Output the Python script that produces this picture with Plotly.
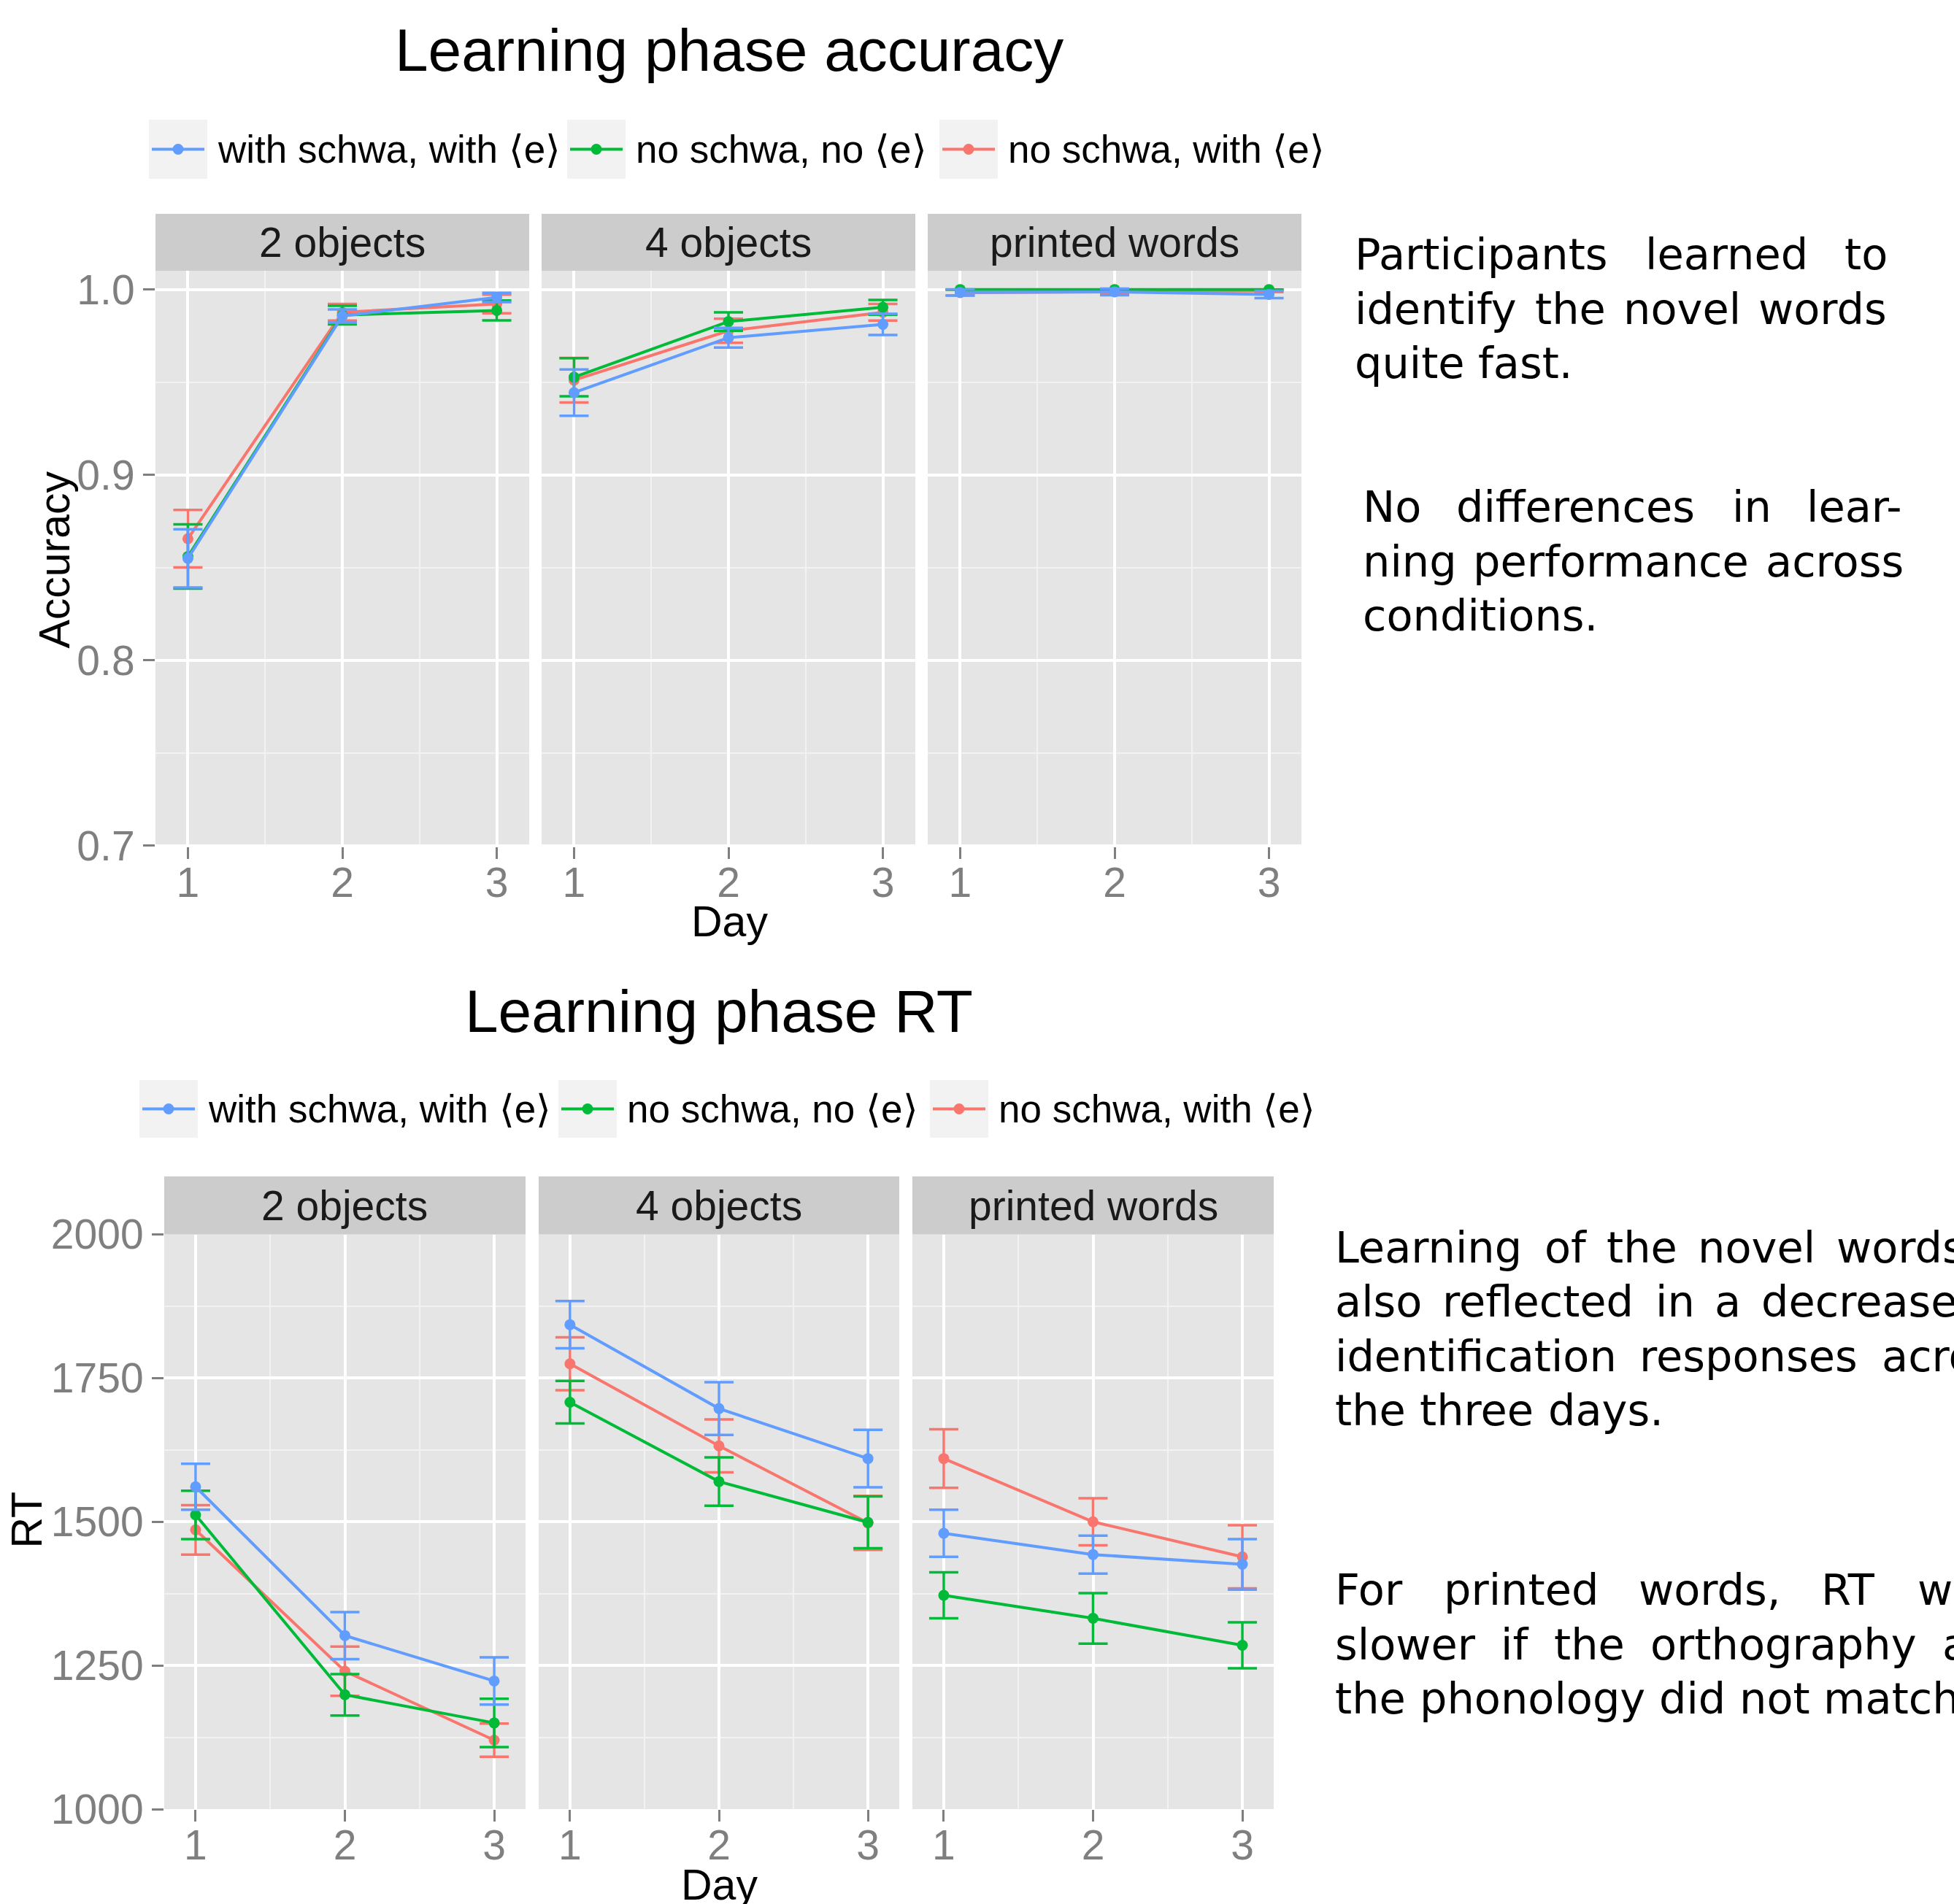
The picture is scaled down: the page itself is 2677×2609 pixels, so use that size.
import plotly.graph_objects as go

W, H = 2677, 2609

# ---------------- data ----------------
days = [1, 2, 3]
panels = ["2 objects", "4 objects", "printed words"]
cond_blue = "with schwa, with \u27e8e\u27e9"
cond_green = "no schwa, no \u27e8e\u27e9"
cond_red = "no schwa, with \u27e8e\u27e9"
legend_order = [cond_blue, cond_green, cond_red]
draw_order = [cond_red, cond_green, cond_blue]
colors = {cond_blue: "#619CFF", cond_green: "#00BA38", cond_red: "#F8766D"}

# Accuracy: per panel (2 objects, 4 objects, printed words), per day 1..3
acc_blue = [[0.855, 0.9857, 0.9957], [0.9444, 0.974, 0.9812], [0.9984, 0.9987, 0.9973]]
acc_blue_se = [[0.0157, 0.0035, 0.0025], [0.0125, 0.0053, 0.0057], [0.0017, 0.0018, 0.002]]
acc_green = [[0.856, 0.9862, 0.9887], [0.9527, 0.9827, 0.9904], [1.0, 1.0, 1.0]]
acc_green_se = [[0.0173, 0.005, 0.0054], [0.0103, 0.005, 0.004], [0.0, 0.0, 0.0]]
acc_red = [[0.8656, 0.9877, 0.9922], [0.9511, 0.9777, 0.9877], [0.9983, 0.999, 0.9993]]
acc_red_se = [[0.0155, 0.0045, 0.005], [0.012, 0.0065, 0.0045], [0.0015, 0.001, 0.0007]]

# RT (ms)
rt_blue = [[1561, 1302, 1223], [1843, 1697, 1610], [1480, 1443, 1426]]
rt_blue_se = [[40, 41, 41], [41, 46, 50], [41, 33, 44]]
rt_green = [[1512, 1199, 1150], [1708, 1570, 1499], [1372, 1332, 1285]]
rt_green_se = [[42, 36, 42], [37, 42, 45], [40, 44, 40]]
rt_red = [[1486, 1240, 1120], [1775, 1632, 1498], [1610, 1500, 1439]]
rt_red_se = [[43, 43, 29], [46, 46, 47], [51, 41, 55]]

acc_ticks = [0.7, 0.8, 0.9, 1.0]
rt_ticks = [1000, 1250, 1500, 1750, 2000]

acc_data = {cond_blue: (acc_blue, acc_blue_se), cond_green: (acc_green, acc_green_se),
            cond_red: (acc_red, acc_red_se)}
rt_data = {cond_blue: (rt_blue, rt_blue_se), cond_green: (rt_green, rt_green_se),
           cond_red: (rt_red, rt_red_se)}

title_acc = "Learning phase accuracy"
title_rt = "Learning phase RT"
xlabel = "Day"
ylabel_acc = "Accuracy"
ylabel_rt = "RT"

para_top1 = [("Participants learned to", True), ("identify the novel words", True),
             ("quite fast.", False)]
para_top2 = [("No differences in lear-", True), ("ning performance across", True),
             ("conditions.", False)]
para_bot1 = [("Learning of the novel words is", True), ("also reflected in a decrease of", True),
             ("identification responses across", True), ("the three days.", False)]
para_bot2 = [("For printed words, RT were", True), ("slower if the orthography and", True),
             ("the phonology did not match.", False)]

# ---------------- layout geometry (pixels) ----------------
FONT = "Liberation Sans, Arial, Helvetica, sans-serif"
TFONT = "DejaVu Sans, sans-serif"
GREY50 = "#7F7F7F"

top_x = [(213, 725), (742, 1254), (1271, 1783)]
bot_x = [(225, 720), (738, 1232), (1250, 1745)]
top_panel_y = (371, 1160)
bot_panel_y = (1691.5, 2479)
top_strip_y = (293, 371)
bot_strip_y = (1612, 1691.5)


def px(x):
    return x / W


def py(y):
    return 1 - y / H


fig = go.Figure()
layout = dict(
    width=W, height=H, margin=dict(l=0, r=0, t=0, b=0, autoexpand=False),
    paper_bgcolor="white", plot_bgcolor="#E5E5E5", showlegend=False,
    font=dict(family=FONT, color="black"),
)
shapes = []
annotations = []


def axis_common():
    return dict(showline=False, zeroline=False, gridcolor="white", gridwidth=4,
                ticks="outside", ticklen=16, tickwidth=3, tickcolor=GREY50,
                tickfont=dict(family=FONT, size=57, color=GREY50), fixedrange=True,
                automargin=False)


for row in range(2):
    xs = top_x if row == 0 else bot_x
    yp = top_panel_y if row == 0 else bot_panel_y
    ys = top_strip_y if row == 0 else bot_strip_y
    data = acc_data if row == 0 else rt_data
    for p in range(3):
        n = row * 3 + p + 1
        xa = "xaxis" if n == 1 else f"xaxis{n}"
        ya = "yaxis" if n == 1 else f"yaxis{n}"
        xr = "x" if n == 1 else f"x{n}"
        yr = "y" if n == 1 else f"y{n}"
        xd = dict(axis_common())
        xd.update(domain=[px(xs[p][0]), px(xs[p][1])], range=[0.79, 3.21],
                  tickvals=days, ticktext=[str(d) for d in days], anchor=yr,
                  ticklabelstandoff=-16,
                  minor=dict(dtick=0.5, tick0=0.5, showgrid=True, gridcolor="#F2F2F2",
                             gridwidth=2, ticks=""))
        yd = dict(axis_common())
        if row == 0:
            yd.update(range=[0.6996, 1.0101], tickvals=acc_ticks,
                      ticktext=[f"{v:.1f}" for v in acc_ticks],
                      minor=dict(dtick=0.05, tick0=0.65, showgrid=True, gridcolor="#F2F2F2",
                                 gridwidth=2, ticks=""))
        else:
            yd.update(range=[1000, 2000], tickvals=rt_ticks,
                      ticktext=[str(v) for v in rt_ticks],
                      minor=dict(dtick=125, tick0=875, showgrid=True, gridcolor="#F2F2F2",
                                 gridwidth=2, ticks=""))
        yd.update(domain=[py(yp[1]), py(yp[0])], anchor=xr)
        if p > 0:
            yd.update(showticklabels=False, ticks="")
        layout[xa] = xd
        layout[ya] = yd

        # strip
        shapes.append(dict(type="rect", xref="paper", yref="paper",
                           x0=px(xs[p][0]), x1=px(xs[p][1]), y0=py(ys[1]), y1=py(ys[0]),
                           fillcolor="#CCCCCC", line=dict(width=0), layer="below"))
        annotations.append(dict(text=panels[p], xref="paper", yref="paper",
                                x=px((xs[p][0] + xs[p][1]) / 2), y=py((ys[0] + ys[1]) / 2),
                                xanchor="center", yanchor="middle", showarrow=False,
                                font=dict(family=FONT, size=57, color="#1A1A1A")))

        for c in draw_order:
            means, ses = data[c]
            fig.add_trace(go.Scatter(
                x=days, y=means[p], xaxis=xr, yaxis=yr, mode="lines+markers",
                line=dict(color=colors[c], width=4),
                marker=dict(color=colors[c], size=15),
                error_y=dict(type="data", array=ses[p], visible=True, color=colors[c],
                             thickness=3.5, width=20),
                name=c, showlegend=False, hoverinfo="skip"))


def text_ann(text, x, y, size, family=FONT, color="black", xanchor="center", angle=0):
    annotations.append(dict(text=text, xref="paper", yref="paper", x=px(x), y=py(y),
                            xanchor=xanchor, yanchor="middle", showarrow=False,
                            textangle=angle, font=dict(family=family, size=size, color=color)))


BL = 0.346  # baseline offset from centre (em)

# titles
text_ann(title_acc, 999, 97 - BL * 82, 82)
text_ann(title_rt, 985, 1414 - BL * 82, 82)
# axis titles
text_ann(xlabel, 999, 1283 - BL * 59, 59)
text_ann(xlabel, 985, 2603 - BL * 59, 59)
text_ann(ylabel_acc, 95 - BL * 59, 767, 59, angle=-90)
text_ann(ylabel_rt, 57 - BL * 59, 2083, 59, angle=-90)

# legends (drawn keys)
for keys_x, ky0, ky1 in [([204, 777, 1287], 164, 245), ([191, 765, 1274], 1480, 1559)]:
    cy = (ky0 + ky1) / 2
    for kx, c in zip(keys_x, legend_order):
        shapes.append(dict(type="rect", xref="paper", yref="paper", x0=px(kx), x1=px(kx + 80),
                           y0=py(ky1), y1=py(ky0), fillcolor="#F2F2F2", line=dict(width=0)))
        shapes.append(dict(type="line", xref="paper", yref="paper", x0=px(kx + 4),
                           x1=px(kx + 76), y0=py(cy), y1=py(cy),
                           line=dict(color=colors[c], width=4)))
        shapes.append(dict(type="circle", xref="paper", yref="paper", x0=px(kx + 32.5),
                           x1=px(kx + 47.5), y0=py(cy + 7.5), y1=py(cy - 7.5),
                           fillcolor=colors[c], line=dict(width=0)))
        text_ann(c, kx + 92, cy, 53, xanchor="left")

# side paragraphs (justified, DejaVu Sans)
WID = {" ": .318, ",": .318, ".": .318, "-": .361,
       "a": .613, "b": .635, "c": .550, "d": .635, "e": .615, "f": .352, "g": .635,
       "h": .634, "i": .278, "j": .278, "k": .579, "l": .278, "m": .974, "n": .634,
       "o": .612, "p": .635, "q": .635, "r": .411, "s": .521, "t": .392, "u": .634,
       "v": .592, "w": .818, "x": .592, "y": .592, "z": .525,
       "F": .575, "L": .557, "N": .748, "P": .603, "R": .695, "T": .611}
TS = 59


def wwidth(s):
    return sum(WID.get(ch, 0.6) for ch in s) * TS


def paragraph(lines, left, right, base0, step):
    for i, (line, just) in enumerate(lines):
        base = base0 + i * step
        words = line.split(" ")
        if just and len(words) > 1:
            total = sum(wwidth(w) for w in words)
            gap = (right - left - total) / (len(words) - 1)
        else:
            gap = WID[" "] * TS
        x = left
        for w in words:
            if x < W - 2:
                text_ann(w, x - 2, base - BL * TS, TS, family=TFONT, xanchor="left")
            x += wwidth(w) + gap


paragraph(para_top1, 1856, 2586, 369, 74.5)
paragraph(para_top2, 1867, 2609, 715, 74.5)
paragraph(para_bot1, 1829, 2768, 1729.5, 74.5)
paragraph(para_bot2, 1829, 2772, 2199, 74.5)

layout["shapes"] = shapes
layout["annotations"] = annotations
fig.update_layout(**layout)

fig.write_html("out.html", config={"displayModeBar": False, "responsive": False},
               post_script="document.body.style.margin='0';document.body.style.overflow='hidden';")
